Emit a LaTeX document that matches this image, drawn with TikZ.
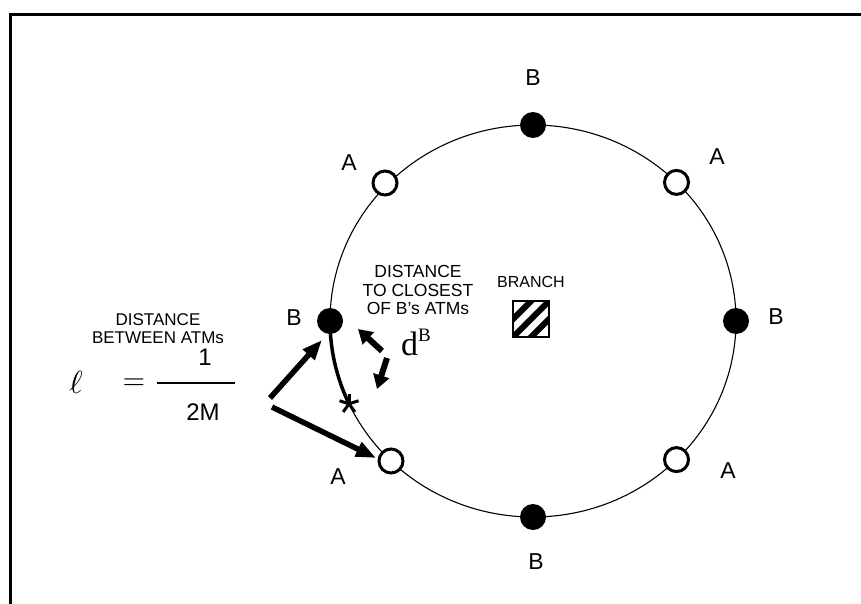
\documentclass[tikz,border=0pt]{standalone}
\usepackage{fontspec}
\usepackage{graphicx}
\setmainfont{Liberation Sans}
\newfontfamily\serifd{Liberation Serif}
\usetikzlibrary{arrows.meta}
\tikzset{
  lbl/.style={inner sep=0pt, font=\fontsize{23}{23}\selectfont},
  small/.style={inner sep=0pt, align=center, font=\fontsize{17.5}{18.5}\selectfont},
  smallL/.style={inner sep=0pt, align=center, font=\fontsize{17}{18}\selectfont},
  bdot/.style={circle, fill=black, minimum size=26pt, inner sep=0pt},
  adot/.style={circle, draw=black, line width=3pt, fill=white, minimum size=24pt, inner sep=0pt},
  bigarrow/.style={line width=5.5pt, -{Triangle[length=20pt,width=15pt]}},
  darrow/.style={line width=6pt, -{Triangle[length=14pt,width=16pt]}},
}
\begin{document}
\begin{tikzpicture}[x=1pt,y=-1pt]
\useasboundingbox (0,0) rectangle (861,604);
% frame
\draw[line width=3pt] (10.5,604) -- (10.5,14.5) -- (861,14.5);
% circle
\coordinate (C) at (533,321);
\draw[line width=1.1pt] (C) ellipse [x radius=203pt, y radius=196pt];
% thick arc
\coordinate (Bl) at (330,321);
\draw[line width=3.5pt] (Bl) arc[start angle=180, end angle=205, x radius=203pt, y radius=196pt] coordinate (X);
% asterisk
\foreach \a in {90,162,234,306,18}
  \draw[line width=3pt] (X) -- ++(\a:-10);
% dots
\node[bdot] (dBt) at (533,125) {};
\node[bdot] (dBb) at (533,517) {};
\node[bdot] (dBl) at (330,321) {};
\node[bdot] (dBr) at (736,321) {};
\node[adot] (dAul) at (385,183) {};
\node[adot] (dAur) at (676.5,182.4) {};
\node[adot] (dAll) at (391,461) {};
\node[adot] (dAlr) at (676.5,459.6) {};
% labels
\node[lbl] (lBt) at (533,78) {B};
\node[lbl] (lBb) at (536,562) {B};
\node[lbl] (lBl) at (294,318) {B};
\node[lbl] (lBr) at (776,317) {B};
\node[lbl] (lAul) at (349,163) {A};
\node[lbl] (lAur) at (717,157) {A};
\node[lbl] (lAll) at (338,477) {A};
\node[lbl] (lAlr) at (728,471) {A};
% branch
\node[small, font=\fontsize{16}{16}\selectfont] (branch) at (531,282) {BRANCH};
\begin{scope}
  \clip (513,301) rectangle (549,337);
  \draw[line width=6pt] (504,346) -- (558,292);
  \draw[line width=6pt] (504,328) -- (540,292);
  \draw[line width=6pt] (522,346) -- (558,310);
\end{scope}
\draw[line width=2pt] (513,301) rectangle (549,337) node[midway] (sq) {};
% distance to closest
\node[small] (dtc) at (418,290) {DISTANCE\\TO CLOSEST\\OF B's ATMs};
\node[inner sep=0pt, anchor=base west] (dB) at (401,355) {\serifd\fontsize{34}{34}\selectfont d\raisebox{14pt}{\fontsize{19}{19}\selectfont B}};
\coordinate (u1) at (382,351);
\coordinate (u2) at (358,329);
\coordinate (v1) at (387,358);
\coordinate (v2) at (377,389);
\draw[darrow] (u1) -- (u2);
\draw[darrow] (v1) -- (v2);
% left text
\node[smallL] (dba) at (158,329) {DISTANCE\\BETWEEN ATMs};
\node[inner sep=0pt] (ell) at (76,382) {\scalebox{3.2}{$\ell$}};
\node[inner sep=0pt] (eq) at (134,384) {\scalebox{2.9}{$=$}};
\draw[line width=1.3pt] (157,383) coordinate (f1) -- (235,383) coordinate (f2);
\node[inner sep=0pt, font=\fontsize{24}{24}\selectfont] (one) at (205,357) {1};
\node[inner sep=0pt, font=\fontsize{24}{24}\selectfont] (twoM) at (203,412) {2M};
% arrows
\coordinate (t1) at (270,398);
\coordinate (h1) at (322,340);
\coordinate (t2) at (272,407);
\coordinate (h2) at (376,458);
\draw[bigarrow] (t1) -- (h1);
\draw[bigarrow] (t2) -- (h2);
\end{tikzpicture}
\end{document}
